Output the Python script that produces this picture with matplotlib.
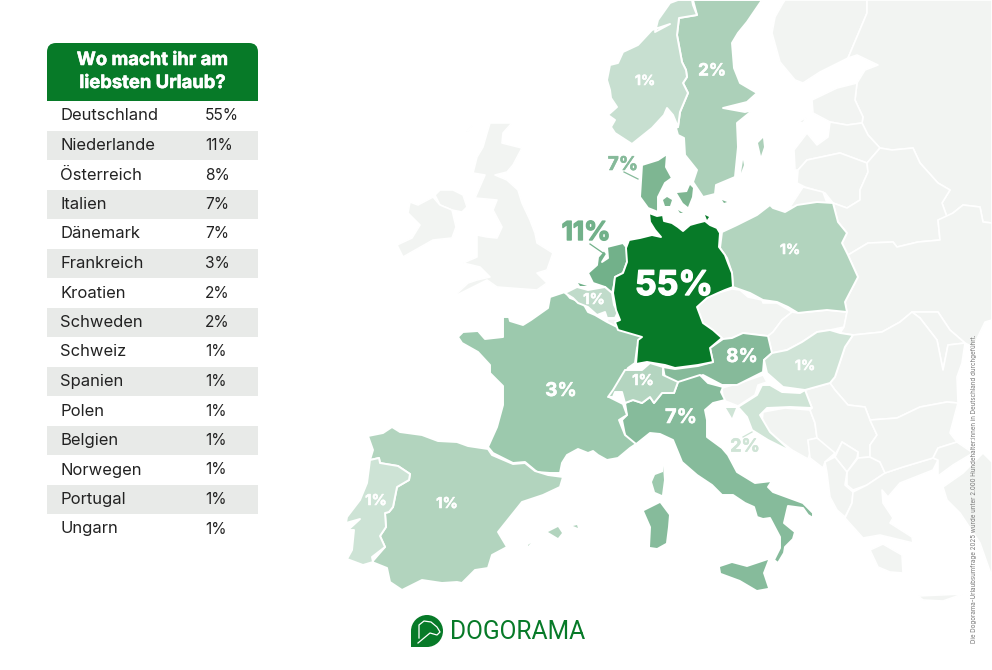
# Dogorama holiday survey: table on the left, map of Europe on the right
# Map outlines are traced in picture pixels, so the axes run 0-992 / 670-0
import matplotlib
matplotlib.use('Agg')
import matplotlib.pyplot as plt
import matplotlib.patheffects as pe
from matplotlib.patches import Rectangle, Circle, FancyBboxPatch

# Survey results
countries = ['Deutschland', 'Niederlande', 'Österreich', 'Italien', 'Dänemark',
             'Frankreich', 'Kroatien', 'Schweden', 'Schweiz', 'Spanien', 'Polen',
             'Belgien', 'Norwegen', 'Portugal', 'Ungarn']
shares = [55, 11, 8, 7, 7, 3, 2, 2, 1, 1, 1, 1, 1, 1, 1]
title_lines = ['Wo macht ihr am', 'liebsten Urlaub?']
footnote = ('Die Dogorama-Urlaubsumfrage 2025 wurde unter 2.000 '
            'Hundehalter:innen in Deutschland durchgeführt.')

GREEN = '#077A28'
GREY = '#F2F4F2'
ROW = '#E8EAE8'
FONT = 'Inter'

fills = {'Deutschland': GREEN, 'Niederlande': '#72B18A', 'Österreich': '#86BA9A',
         'Italien': '#86BB9B', 'Dänemark': '#7EB692', 'Frankreich': '#9CC9AD',
         'Kroatien': '#CFE4D6', 'Schweden': '#ACD0B9', 'Schweiz': '#B4D5C0',
         'Spanien': '#B2D4BE', 'Polen': '#B2D4BE', 'Belgien': '#C0DBCA',
         'Norwegen': '#C7DFD0', 'Portugal': '#CDE3D5', 'Ungarn': '#D0E4D7'}

# Outlines of the surveyed countries, first ring is the mainland, the rest are islands
germany = [[(649,213),(657,216),(663,215),(664,221),(672,223),(678,227),(683,231),(690,225),(697,223),(705,221),(710,225),(717,228),(720,233),(719,247),(725,255),(728,263),(732,273),(733,287),(725,290),(718,293),(707,298),(697,307),(700,315),(703,323),(713,330),(722,338),(710,348),(713,362),(698,365),(675,368),(665,365),(647,362),(636,364),(638,340),(642,337),(618,330),(615,322),(620,320),(616,310),(613,293),(615,277),(623,273),(627,262),(626,248),(629,240),(640,238),(652,235),(661,237),(655,230),(650,222)],
           [(705,215),(709,217),(707,220)]]
netherlands = [[(588,273),(597,265),(598,257),(604,250),(607,254),(602,262),(608,258),(607,247),(623,243),(627,248),(627,262),(623,273),(615,277),(614,285),(612,293),(605,287),(593,283)],
               [(578,283),(587,286),(580,286)]]
austria = [[(663,367),(675,369),(698,366),(713,362),(710,348),(723,339),(732,338),(743,333),(768,336),(772,353),(764,360),(763,372),(737,385),(722,385),(703,375),(678,383),(665,378)]]
italy = [[(625,403),(633,400),(642,403),(650,397),(654,403),(662,393),(674,393),(678,382),(700,375),(708,383),(723,387),(721,392),(725,400),(713,403),(705,410),(707,420),(707,437),(722,448),(728,455),(737,472),(755,483),(772,481),(768,487),(773,492),(803,503),(813,513),(813,518),(808,515),(803,508),(788,506),(784,523),(795,532),(793,539),(785,547),(784,553),(778,563),(774,560),(780,548),(780,537),(770,518),(763,519),(757,517),(754,507),(745,503),(733,495),(722,495),(712,485),(697,475),(682,462),(673,440),(660,434),(650,433),(635,445),(625,435),(622,420),(627,415)],
         [(720,567),(732,563),(747,567),(768,560),(763,573),(768,588),(757,590),(740,580),(721,573)],
         [(644,511),(660,503),(669,515),(668,527),(666,543),(657,548),(650,547),(651,527)]]
denmark = [[(642,165),(658,160),(667,154),(666,167),(672,178),(665,183),(658,197),(658,212),(648,208),(640,197)],
           [(663,200),(667,197),(672,200),(670,206),(665,206)],
           [(677,193),(687,192),(690,185),(693,188),(692,197),(688,207),(683,203)],
           [(678,210),(683,213),(680,213)],
           [(722,200),(727,202),(724,203)]]
france = [[(565,292),(550,297),(548,308),(531,320),(523,325),(510,321),(509,317),(503,317),(503,337),(485,339),(478,331),(463,332),(458,337),(462,343),(478,352),(490,365),(490,373),(503,386),(503,405),(497,427),(488,447),(493,453),(513,463),(525,462),(537,472),(550,473),(560,473),(562,463),(567,455),(578,449),(588,453),(593,451),(598,455),(607,460),(618,458),(630,448),(636,444),(625,435),(619,420),(627,415),(623,404),(609,397),(617,388),(628,368),(635,363),(637,348),(643,337),(617,327),(607,322),(595,315),(588,312),(583,303),(570,298)],
          [(663,466),(663,472),(655,475),(652,482),(655,492),(662,495),(664,480)]]
croatia = [[(738,407),(757,395),(762,385),(770,385),(782,392),(800,393),(805,390),(812,408),(790,407),(767,408),(760,415),(770,432),(792,452),(768,440),(752,430),(747,417)],
           [(726,408),(736,408),(732,418)]]
sweden = [[(693,0),(697,15),(679,18),(677,35),(682,62),(686,70),(687,77),(683,83),(688,93),(680,112),(678,127),(676,128),(678,135),(684,138),(685,155),(697,170),(693,182),(703,197),(715,194),(716,185),(735,177),(738,147),(737,123),(753,110),(745,112),(723,108),(747,102),(757,93),(740,83),(734,68),(732,43),(738,33),(747,22),(762,0)],
          [(758,143),(763,138),(764,147),(761,156)],
          [(741,173),(743,160),(744,165)]]
switzerland = [[(608,397),(613,390),(625,370),(642,370),(650,363),(663,367),(663,375),(678,382),(674,393),(662,393),(654,403),(650,397),(642,403),(633,400),(625,403),(622,392),(615,392),(613,397)]]
spain = [[(368,436),(383,433),(392,427),(400,432),(422,435),(438,441),(457,442),(468,446),(488,449),(492,455),(513,464),(525,463),(535,471),(548,475),(563,477),(560,487),(543,495),(522,502),(510,517),(498,532),(507,547),(492,555),(488,568),(475,570),(462,583),(457,582),(442,583),(422,580),(402,590),(390,582),(387,568),(372,562),(385,547),(380,536),(386,527),(385,513),(389,512),(393,507),(394,502),(397,487),(409,480),(410,474),(398,466),(380,463),(379,458),(370,460),(373,450)],
         [(548,532),(558,527),(562,533),(558,538)],
         [(573,526),(577,525),(578,528)],
         [(528,545),(531,543),(528,546)]]
poland = [[(722,232),(737,225),(757,215),(770,205),(773,208),(785,212),(797,205),(817,202),(833,203),(838,222),(847,233),(842,243),(848,255),(858,277),(845,302),(847,312),(827,310),(807,312),(798,313),(788,307),(777,302),(763,300),(750,293),(733,287),(732,273),(727,258),(720,248)]]
belgium = [[(565,293),(577,287),(588,290),(605,287),(612,293),(614,305),(618,312),(615,318),(607,318),(605,312),(597,315),(588,307),(578,303),(573,298)]]
norway = [[(692,0),(693,5),(697,15),(679,18),(677,35),(682,62),(686,70),(687,77),(683,83),(688,93),(680,112),(678,127),(673,115),(667,108),(664,115),(652,128),(632,144),(615,133),(611,127),(615,120),(608,115),(617,107),(611,98),(610,90),(607,80),(610,65),(618,63),(623,52),(638,45),(652,30),(670,24),(655,32),(658,20),(670,3),(678,0)]]
portugal = [[(370,460),(379,458),(380,463),(398,466),(410,474),(409,480),(397,487),(394,502),(393,507),(389,512),(385,513),(386,527),(380,536),(385,547),(372,557),(373,562),(363,565),(347,559),(352,550),(354,530),(348,530),(360,519),(346,523),(347,517),(360,500),(367,483),(369,468)]]
hungary = [[(764,360),(772,353),(787,350),(802,342),(817,332),(830,330),(840,333),(853,335),(845,347),(835,377),(830,383),(805,390),(783,387),(767,373)]]

surveyed = [germany, netherlands, austria, italy, denmark, france, croatia, sweden,
            switzerland, spain, poland, belgium, norway, portugal, hungary]

# Grey neighbours that were not named in the survey
grey_land = [
    # UK, Northern Ireland, Ireland, Hebrides
    [(490,123),(512,123),(503,133),(502,143),(522,148),(513,165),(507,172),(495,175),(507,180),(518,190),(522,203),(530,220),(535,233),(537,243),(553,253),(547,270),(537,273),(547,283),(537,290),(497,287),(487,280),(453,297),(468,283),(477,280),(490,277),(480,267),(463,263),(477,257),(477,235),(487,237),(497,238),(502,227),(493,210),(497,200),(475,198),(485,175),(473,173),(477,157),(483,147),(487,133)],
    [(435,195),(440,190),(453,190),(463,195),(467,207),(462,212),(452,210),(440,205)],
    [(410,202),(408,213),(420,225),(412,238),(397,245),(403,257),(433,240),(452,238),(456,227),(452,210),(440,205),(433,197),(418,205)],
    [(465,132),(473,125),(467,133)],
    # Luxembourg
    [(607,319),(615,319),(620,320),(617,327),(608,323)],
    # Czechia, Slovakia, Slovenia
    [(697,307),(707,298),(718,293),(732,289),(740,290),(748,297),(762,300),(763,303),(777,303),(792,312),(782,320),(773,332),(768,336),(743,333),(732,338),(723,339),(713,330),(703,323),(700,315)],
    [(792,312),(798,313),(807,312),(827,310),(847,312),(844,327),(830,330),(817,332),(802,342),(787,350),(772,353),(768,336),(773,332),(782,320)],
    [(722,388),(740,383),(763,375),(767,382),(758,385),(755,395),(738,406),(723,400)],
    # Finland, Russia
    [(785,0),(867,0),(867,13),(848,58),(820,72),(803,83),(795,80),(780,62),(772,33),(775,17),(783,3)],
    [(867,0),(992,0),(992,223),(983,222),(980,207),(963,205),(953,213),(947,217),(942,203),(950,190),(938,183),(920,163),(913,148),(892,150),(880,148),(868,135),(862,123),(863,117),(855,100),(857,83),(865,70),(878,65),(857,55),(848,58),(867,13)],
    # Estonia, Saaremaa, Latvia, Lithuania, Kaliningrad
    [(812,100),(837,88),(857,83),(855,100),(863,117),(862,123),(847,125),(830,122),(813,113)],
    [(798,122),(807,117),(803,123)],
    [(795,170),(794,150),(807,133),(817,145),(828,137),(830,122),(847,125),(862,123),(868,135),(880,148),(867,163),(840,153),(807,160),(798,170)],
    [(798,170),(807,160),(840,153),(867,163),(868,172),(860,190),(860,200),(847,208),(833,203),(825,193),(805,187),(797,183)],
    [(803,187),(823,192),(827,203),(803,208),(790,207)],
    # Belarus, Ukraine, Moldova, Romania
    [(880,148),(892,150),(913,148),(920,163),(938,183),(950,190),(942,203),(947,217),(938,220),(940,240),(918,242),(897,247),(893,242),(868,243),(848,255),(842,243),(847,233),(838,222),(833,203),(847,208),(860,200),(860,190),(868,172),(867,163)],
    [(848,255),(868,243),(893,242),(897,247),(918,242),(940,240),(938,220),(953,213),(963,205),(980,207),(983,222),(992,223),(992,320),(985,322),(973,347),(965,343),(950,330),(938,312),(912,312),(900,322),(882,332),(853,335),(840,333),(844,327),(847,312),(845,302),(858,277)],
    [(912,312),(920,318),(937,340),(943,370),(948,345),(965,343),(950,330),(938,312)],
    [(853,335),(882,332),(900,322),(912,312),(920,318),(937,340),(943,370),(948,345),(965,343),(962,363),(957,377),(958,403),(947,402),(920,407),(897,418),(870,420),(865,407),(848,405),(835,390),(830,383),(835,377),(845,347)],
    # Western Balkans
    [(763,412),(785,408),(810,410),(815,423),(817,438),(808,440),(810,453),(808,459),(792,450),(770,433),(762,422)],
    [(805,390),(830,383),(835,390),(848,405),(865,407),(870,420),(877,435),(870,445),(870,457),(858,458),(858,452),(842,442),(835,455),(817,438),(815,423),(810,410),(812,408)],
    [(808,440),(817,438),(835,453),(825,462),(823,468),(810,458)],
    [(842,442),(858,452),(857,458),(847,472),(835,457)],
    [(847,472),(858,458),(870,457),(880,462),(885,473),(867,485),(853,490),(847,485)],
    [(825,462),(835,457),(847,472),(845,485),(853,492),(852,503),(845,517),(837,510),(830,497),(827,473)],
    # Greece, Peloponnese, Crete
    [(853,492),(867,485),(885,473),(903,467),(933,458),(938,460),(933,470),(900,483),(888,497),(882,490),(883,503),(893,518),(890,523),(912,537),(913,543),(880,535),(863,538),(845,518),(852,503)],
    [(870,550),(883,544),(902,555),(903,573),(890,572),(878,567)],
    [(918,596),(940,595),(963,594),(943,601),(923,600)],
    # Bulgaria, Turkey
    [(870,420),(897,418),(920,407),(947,402),(958,403),(950,433),(957,442),(938,448),(933,458),(903,467),(885,473),(880,462),(870,457),(870,445),(877,435)],
    [(933,458),(938,448),(957,442),(973,453),(953,465),(938,476),(938,460)],
    [(943,487),(963,473),(983,453),(992,462),(992,577),(980,543),(960,513),(947,500)],
]

# Share labels on the map: country index, x, y, font px, colour
map_labels = [(0, 674, 286, 34, 'white'), (1, 586, 233, 26, '#72B18A'), (2, 742, 357, 19, 'white'),
              (3, 681, 418, 20, 'white'), (4, 623, 165, 19, '#86BA9A'), (5, 561, 391, 19, 'white'),
              (6, 745, 447, 18, '#CFE4D6'), (7, 712, 71, 17, 'white'), (8, 643, 381, 15, 'white'),
              (9, 447, 504, 15, 'white'), (10, 790, 250, 14, 'white'), (11, 594, 300, 15, 'white'),
              (12, 645, 81, 14, 'white'), (13, 376, 501, 15, 'white'), (14, 805, 366, 14, 'white')]
leaders = [((624, 638), (172, 179), '#86BA9A'), ((590, 603), (244, 253), '#72B18A'),
           ((743, 752), (437, 432), '#CFE4D6')]

fig = plt.figure(figsize=(9.92, 6.7), dpi=100)
ax = fig.add_axes([0, 0, 1, 1])
ax.set_xlim(0, 992)
ax.set_ylim(670, 0)
ax.axis('off')

def px(size):
    return size * 0.72

def thick(col, width=0.6):
    # Inter bold is lighter than the heavy face of the original
    return [pe.withStroke(linewidth=width, foreground=col)]

for ring in grey_land:
    ax.fill(*zip(*ring), facecolor=GREY, edgecolor='white', lw=1.2, joinstyle='round', zorder=1)

for name, rings in sorted(zip(countries, surveyed), key=lambda p: p[0] == 'Deutschland'):
    for i, ring in enumerate(rings):
        # islands keep their full size, only the mainland gets the white border
        ax.fill(*zip(*ring), facecolor=fills[name], edgecolor='white' if i == 0 else 'none',
                lw=1.4, joinstyle='round', zorder=2)

for idx, x, y, size, col in map_labels:
    ax.text(x, y, '{}%'.format(shares[idx]), color=col, fontsize=px(size), fontweight='bold',
            family=FONT, ha='center', va='center', zorder=4,
            path_effects=thick(col, 1.0 if size > 24 else 0.4))
for xs, ys, col in leaders:
    ax.plot(xs, ys, color=col, lw=0.9, zorder=3)

# Table
header = FancyBboxPatch((47, 43), 211, 70, boxstyle='round,pad=0,rounding_size=9',
                        facecolor=GREEN, edgecolor='none', zorder=2)
ax.add_patch(header)
ax.add_patch(Rectangle((47, 101), 211, 14, facecolor='white', edgecolor='none', zorder=3))
for i, line in enumerate(title_lines):
    ax.text(152.5, 60.5 + i * 23, line, color='white', fontsize=px(18.4), fontweight='bold',
            family=FONT, ha='center', va='center', zorder=4, path_effects=thick('white', 0.4))
for i, (name, share) in enumerate(zip(countries, shares)):
    y = 115.5 + i * 29.5
    if i % 2 == 1:
        ax.add_patch(Rectangle((47, y - 14.5), 211, 29, facecolor=ROW, edgecolor='none', zorder=3))
    ax.text(60, y + 0.5, name, color='#222222', fontsize=px(16.6), family=FONT, va='center', zorder=4)
    ax.text(205, y + 0.5, '{}%'.format(share), color='#222222', fontsize=px(15.5), family=FONT,
            va='center', zorder=4)

# Logo
ax.add_patch(Circle((427, 631), 16, facecolor=GREEN, edgecolor='none', zorder=2))
ax.add_patch(Rectangle((411, 631), 16, 16, facecolor=GREEN, edgecolor='none', zorder=2))
ax.plot([419, 419, 424, 431, 437, 440, 437, 430, 424, 418],
        [638, 625, 621, 622, 627, 632, 635, 633, 638, 643],
        color='white', lw=0.9, zorder=3)
ax.text(450, 632, 'DOGORAMA', color=GREEN, fontsize=px(24.6), family='Roboto',
        va='center', zorder=4)

ax.text(974, 643, footnote, rotation=90, color='#777777', fontsize=px(6.2), family=FONT,
        ha='center', va='bottom', zorder=5)

fig.savefig('out.png', dpi=100, facecolor='white')
